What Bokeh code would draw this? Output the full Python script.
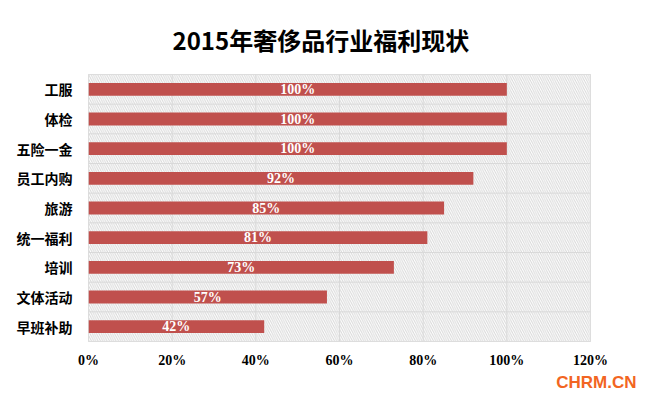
from bokeh.plotting import figure
from bokeh.models import Range1d, FixedTicker, Title, ColumnDataSource
from bokeh.embed import file_html
from bokeh.resources import INLINE

title = "2015年奢侈品行业福利现状"
categories = ["工服", "体检", "五险一金", "员工内购", "旅游", "统一福利", "培训", "文体活动", "早班补助"]
values = [100, 100, 100, 92, 85, 81, 73, 57, 42]
x_ticks = [0, 20, 40, 60, 80, 100, 120]
x_tick_labels = ["0%", "20%", "40%", "60%", "80%", "100%", "120%"]
brand = "CHRM.CN"

n = len(categories)
ypos = [n - 1 - i + 0.5 for i in range(n)]

p = figure(width=641, height=391, output_backend="svg", toolbar_location=None,
           x_range=Range1d(0, 120), y_range=Range1d(0, n),
           min_border_left=88, min_border_right=51, min_border_top=74, min_border_bottom=48)
p.outline_line_color = "#d9d9d9"
p.xgrid.visible = False
p.ygrid.visible = False

# hatched background
p.quad(left=[0], right=[120], bottom=[0], top=[n], fill_color="white", line_color=None,
       hatch_pattern="left_diagonal_line", hatch_color="#d8d8d8", hatch_scale=4.5, hatch_weight=1)

# grid lines
p.segment(x0=x_ticks, x1=x_ticks, y0=[0] * len(x_ticks), y1=[n] * len(x_ticks),
          line_color="#d9d9d9", line_width=1)
ybounds = list(range(n + 1))
p.segment(x0=[0] * len(ybounds), x1=[120] * len(ybounds), y0=ybounds, y1=ybounds,
          line_color="#d9d9d9", line_width=1)

src = ColumnDataSource(dict(y=ypos, v=values, mid=[v / 2 for v in values],
                            lab=[f"{v}%" for v in values]))
p.hbar(y="y", right="v", left=0, height=0.43, source=src, fill_color="#c0504d", line_color=None)
p.text(x="mid", y="y", text="lab", source=src, text_color="white", text_font="Liberation Serif",
       text_font_style="bold", text_font_size="14px", text_align="center", text_baseline="middle")

p.xaxis.ticker = FixedTicker(ticks=x_ticks)
p.xaxis.major_label_overrides = {t: l for t, l in zip(x_ticks, x_tick_labels)}
p.yaxis.ticker = FixedTicker(ticks=ypos)
p.yaxis.major_label_overrides = {y: c for y, c in zip(ypos, categories)}
for ax in (p.xaxis, p.yaxis):
    ax.axis_line_color = None
    ax.major_tick_line_color = None
    ax.minor_tick_line_color = None
    ax.major_label_text_color = "black"
    ax.major_label_text_font_style = "bold"
p.xaxis.major_label_text_font = "Liberation Serif"
p.xaxis.major_label_text_font_size = "14px"
p.xaxis.major_label_standoff = 5
p.yaxis.major_label_text_font = "Noto Sans CJK SC"
p.yaxis.major_label_text_font_size = "14px"
p.yaxis.major_label_standoff = 10

t = Title(text=title, align="left", text_font="Noto Sans CJK SC", text_font_style="bold",
          text_font_size="24px", text_color="black", offset=84, standoff=36)
p.add_layout(t, "above")
b = Title(text=brand, align="right", text_font="Liberation Sans", text_font_style="bold",
          text_font_size="17px", text_color="#f26522", offset=-46, standoff=0)
p.add_layout(b, "below")

open("out.html", "w").write(file_html(p, INLINE))
